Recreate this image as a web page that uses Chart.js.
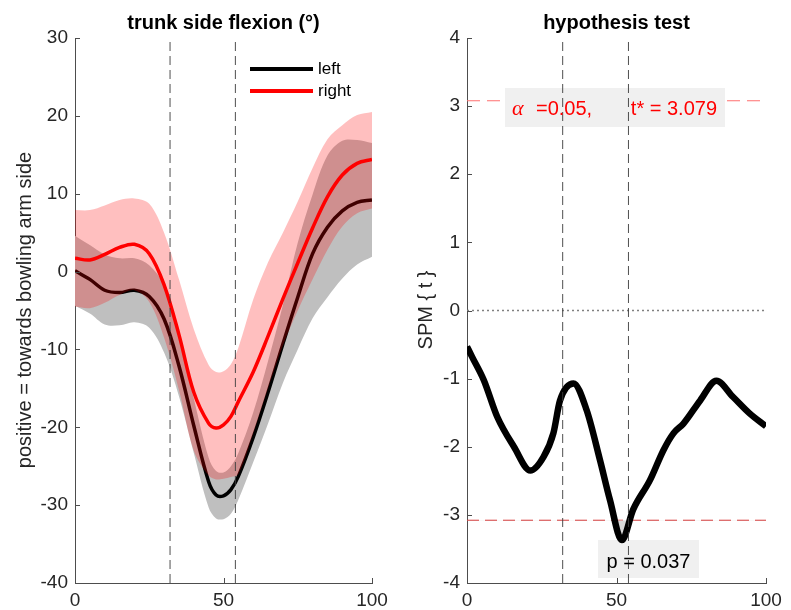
<!DOCTYPE html>
<html>
<head>
<meta charset="utf-8">
<script src="https://cdn.jsdelivr.net/npm/chart.js@4.4.0/dist/chart.umd.min.js"></script>
<style>
  body { margin: 0; background: #fff; }
  #wrap { position: relative; width: 791px; height: 610px; }
  #flexionChart { position: absolute; left: 0; top: 0; width: 395px; height: 610px; }
  #spmChart { position: absolute; left: 395px; top: 0; width: 396px; height: 610px; }
</style>
</head>
<body>
<div id="wrap">
  <canvas id="flexionChart" width="395" height="610"></canvas>
  <canvas id="spmChart" width="396" height="610"></canvas>
</div>
<script>
// Trunk side flexion, left vs right, mean +/- SD and SPM{t} test

const pct = [0, 5, 10, 15, 20, 25, 30, 35, 40, 45, 47.5, 50, 52.5, 55, 60, 65, 70, 75, 80, 85, 90, 95, 100];

const leftMean  = [0.1, -1.0, -2.4, -2.7, -2.4, -3.2, -6.1, -12.1, -19.8, -27.0, -28.7, -28.8, -28.0, -26.3, -21.3, -15.5, -9.3, -3.3, 2.3, 5.7, 7.8, 8.9, 9.2];
const leftUpper = [4.6, 3.4, 2.2, 1.7, 1.7, 0.8, -1.8, -8.2, -16.3, -23.9, -25.6, -25.8, -25.0, -23.3, -18.1, -11.5, -4.3, 3.7, 9.9, 14.9, 16.8, 16.9, 16.5];
const leftLower = [-4.4, -5.4, -6.8, -6.9, -6.5, -7.2, -10.4, -16.0, -23.3, -30.3, -31.7, -31.8, -31.1, -29.3, -24.5, -19.5, -14.3, -10.0, -6.0, -3.3, -0.9, 0.9, 1.9];

const rightMean  = [1.7, 1.5, 2.2, 3.1, 3.5, 2.3, -1.7, -8.1, -15.5, -19.5, -20.1, -19.7, -18.6, -16.7, -12.9, -8.3, -3.5, 1.1, 5.6, 9.6, 12.4, 13.9, 14.4];
const rightUpper = [7.9, 7.9, 8.5, 9.2, 9.4, 8.7, 5.0, -1.0, -7.4, -12.0, -12.9, -12.8, -11.9, -9.8, -3.6, 1.2, 5.0, 9.0, 13.3, 17.0, 18.8, 20.1, 20.5];
const rightLower = [-4.5, -4.7, -4.0, -3.0, -2.4, -3.9, -8.5, -15.2, -23.0, -26.2, -26.7, -26.6, -26.4, -26.0, -20.8, -15.0, -9.5, -5.0, -1.0, 2.8, 5.8, 7.5, 8.1];

const eventTimes = [32, 54];

const spmX = [0, 1.7, 5.6, 10.1, 15.7, 21.2, 25.6, 28.9, 31.1, 35.6, 40, 44.5, 47.8, 51.8, 55.6, 61.2, 65.7, 69.1, 72.4, 78, 83.4, 89, 94.5, 100];
const spmT = [-0.53, -0.68, -1.02, -1.56, -2.0, -2.35, -2.15, -1.8, -1.32, -1.07, -1.46, -2.2, -2.78, -3.37, -2.92, -2.49, -2.05, -1.8, -1.66, -1.32, -1.03, -1.27, -1.51, -1.7];

const tCritical = 3.079;
const alphaLevel = 0.05;
const pValue = 0.037;

const FONT = '"Liberation Sans", Arial, sans-serif';
const axisColor = '#4d4d4d';
const tickColor = '#262626';
const smooth = 0.35;

function xy(xs, ys) {
  return xs.map((v, i) => ({ x: v, y: ys[i] }));
}

function vline(x, ymin, ymax) {
  return {
    data: [{ x: x, y: ymin }, { x: x, y: ymax }],
    borderColor: 'rgba(60,60,60,0.9)',
    borderWidth: 1,
    borderDash: [9, 5],
    pointRadius: 0,
    fill: false,
    order: 0
  };
}

function band(ys, color, order) {
  return {
    data: xy(pct, ys),
    borderWidth: 0,
    pointRadius: 0,
    backgroundColor: color,
    fill: color ? '+1' : false,
    tension: smooth,
    order: order
  };
}

function meanLine(ys, color, order) {
  return {
    data: xy(pct, ys),
    borderColor: color,
    borderWidth: 3.5,
    pointRadius: 0,
    fill: false,
    tension: smooth,
    order: order
  };
}

function axes(ymin, ymax, ystep, yWidth) {
  return {
    x: {
      type: 'linear', min: 0, max: 100,
      ticks: { stepSize: 50, padding: 6, color: tickColor, font: { family: FONT, size: 19 } },
      grid: { display: false, drawTicks: false },
      border: { color: axisColor, width: 1 },
      afterFit: function(scale) { scale.height = 27; }
    },
    y: {
      type: 'linear', min: ymin, max: ymax,
      ticks: { stepSize: ystep, padding: 7, color: tickColor, font: { family: FONT, size: 19 } },
      grid: { display: false, drawTicks: false },
      border: { color: axisColor, width: 1 },
      afterFit: function(scale) { scale.width = yWidth; }
    }
  };
}

// MATLAB style ticks pointing into the plot
const inwardTicks = {
  id: 'inwardTicks',
  afterDraw(chart) {
    const { ctx, chartArea } = chart;
    const x = chart.scales.x, y = chart.scales.y;
    ctx.save();
    ctx.strokeStyle = axisColor;
    ctx.lineWidth = 1;
    ctx.beginPath();
    x.ticks.forEach(t => {
      const px = Math.round(x.getPixelForValue(t.value)) + 0.5;
      ctx.moveTo(px, chartArea.bottom);
      ctx.lineTo(px, chartArea.bottom - 5);
    });
    y.ticks.forEach(t => {
      const py = Math.round(y.getPixelForValue(t.value)) + 0.5;
      ctx.moveTo(chartArea.left, py);
      ctx.lineTo(chartArea.left + 5, py);
    });
    ctx.stroke();
    ctx.restore();
  }
};

function drawTitle(chart, text) {
  const { ctx, chartArea } = chart;
  ctx.save();
  ctx.fillStyle = '#000';
  ctx.font = 'bold 20px ' + FONT;
  ctx.textAlign = 'center';
  ctx.textBaseline = 'alphabetic';
  ctx.fillText(text, (chartArea.left + chartArea.right) / 2, 29);
  ctx.restore();
}

function drawYLabel(chart, text, cx, cy) {
  const ctx = chart.ctx;
  ctx.save();
  ctx.translate(cx, cy);
  ctx.rotate(-Math.PI / 2);
  ctx.fillStyle = '#262626';
  ctx.font = '20px ' + FONT;
  ctx.textAlign = 'center';
  ctx.textBaseline = 'middle';
  ctx.fillText(text, 0, 0);
  ctx.restore();
}

// Left panel
const flexionCtx = document.getElementById('flexionChart');
if (flexionCtx) {
  new Chart(flexionCtx, {
    type: 'line',
    data: {
      datasets: [
        band(leftUpper, '#bfbfbf', 6),
        band(leftLower, null, 6),
        meanLine(leftMean, '#000000', 5),
        band(rightUpper, 'rgba(255,0,0,0.25)', 4),
        band(rightLower, null, 4),
        meanLine(rightMean, '#ff0000', 3),
        vline(eventTimes[0], -40, 30),
        vline(eventTimes[1], -40, 30)
      ]
    },
    options: {
      responsive: false,
      animation: false,
      layout: { padding: { left: 0, right: 23, top: 38, bottom: 0 } },
      scales: axes(-40, 30, 10, 75),
      plugins: { legend: { display: false }, tooltip: { enabled: false } }
    },
    plugins: [inwardTicks, {
      id: 'flexionText',
      afterDraw(chart) {
        const ctx = chart.ctx;
        drawTitle(chart, 'trunk side flexion (°)');
        drawYLabel(chart, 'positive = towards bowling arm side', 25, 310);
        // legend
        const items = [['left', '#000000', 69], ['right', '#ff0000', 91]];
        ctx.save();
        items.forEach(it => {
          ctx.strokeStyle = it[1];
          ctx.lineWidth = 4;
          ctx.beginPath();
          ctx.moveTo(250, it[2]);
          ctx.lineTo(313, it[2]);
          ctx.stroke();
          ctx.fillStyle = '#000';
          ctx.font = '17px ' + FONT;
          ctx.textAlign = 'left';
          ctx.textBaseline = 'middle';
          ctx.fillText(it[0], 318, it[2]);
        });
        ctx.restore();
      }
    }]
  });
}

// Right panel
const spmCtx = document.getElementById('spmChart');
if (spmCtx) {
  new Chart(spmCtx, {
    type: 'line',
    data: {
      datasets: [
        {
          data: xy(spmX, spmT), borderColor: '#000000', borderWidth: 6.5, pointRadius: 0,
          cubicInterpolationMode: 'monotone',
          fill: { target: { value: -tCritical }, above: 'rgba(0,0,0,0)', below: '#d9d9d9' },
          order: 2
        },
        {
          data: [{ x: 0, y: tCritical }, { x: 100, y: tCritical }],
          borderColor: '#ff7070', borderWidth: 1.2, borderDash: [13, 7], pointRadius: 0, fill: false, order: 5
        },
        {
          data: [{ x: 0, y: -tCritical }, { x: 100, y: -tCritical }],
          borderColor: '#d42020', borderWidth: 1, borderDash: [12, 6], pointRadius: 0, fill: false, order: 3
        },
        {
          data: [{ x: 0, y: 0 }, { x: 100, y: 0 }],
          borderColor: '#808080', borderWidth: 1.5, borderDash: [2, 3], pointRadius: 0, fill: false, order: 4
        },
        vline(eventTimes[0], -4, 4),
        vline(eventTimes[1], -4, 4)
      ]
    },
    options: {
      responsive: false,
      animation: false,
      layout: { padding: { left: 0, right: 25, top: 38, bottom: 0 } },
      scales: axes(-4, 4, 1, 72),
      plugins: { legend: { display: false }, tooltip: { enabled: false } }
    },
    plugins: [inwardTicks, {
      id: 'spmText',
      afterDatasetDraw(chart, args) {
        // text boxes sit above the threshold line but below the event lines
        if (args.index !== 1) return;
        const ctx = chart.ctx;
        ctx.save();
        ctx.fillStyle = '#f0f0f0';
        ctx.fillRect(110, 88, 220, 39);
        ctx.fillRect(203, 540, 101, 38);
        ctx.restore();
      },
      afterDraw(chart) {
        const ctx = chart.ctx;
        drawTitle(chart, 'hypothesis test');
        drawYLabel(chart, 'SPM { t }', 31, 310);
        ctx.save();
        ctx.textBaseline = 'alphabetic';
        ctx.fillStyle = '#ff0000';
        ctx.font = 'italic 22px "Liberation Serif", "Times New Roman", serif';
        ctx.textAlign = 'left';
        ctx.fillText('α', 117, 115);
        ctx.font = '20px ' + FONT;
        ctx.fillText('=' + alphaLevel.toFixed(2) + ',', 141, 115);
        ctx.textAlign = 'right';
        ctx.fillText('t* = ' + tCritical.toFixed(3), 322, 115);
        ctx.fillStyle = '#000';
        ctx.textAlign = 'center';
        ctx.fillText('p = ' + pValue.toFixed(3), 253.5, 568);
        ctx.restore();
      }
    }]
  });
}
</script>
</body>
</html>
